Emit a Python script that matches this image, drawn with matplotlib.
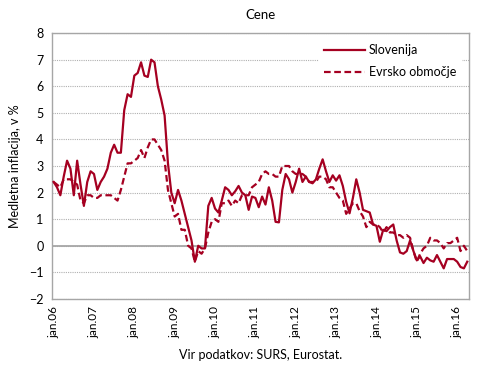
import matplotlib
matplotlib.use("Agg")
import matplotlib.pyplot as plt
import numpy as np

# monthly data, jan.2006 - apr.2016
slovenija = [
    2.4, 2.2, 1.9, 2.6, 3.2, 2.9, 1.9, 3.2, 2.3, 1.5, 2.4, 2.8,
    2.7, 2.1, 2.4, 2.6, 2.9, 3.5, 3.8, 3.5, 3.5, 5.1, 5.7, 5.6,
    6.4, 6.5, 6.9, 6.4, 6.35, 7.0, 6.9, 6.0, 5.5, 4.9, 3.1, 2.0,
    1.6, 2.1, 1.7, 1.2, 0.7, 0.2, -0.6, 0.0, -0.1, -0.1, 1.5, 1.8,
    1.4, 1.25, 1.7, 2.2, 2.1, 1.9, 2.05, 2.25, 2.0, 1.9, 1.35, 1.85,
    1.8, 1.45, 1.85, 1.55, 2.2, 1.7, 0.9, 0.88, 2.1, 2.7, 2.5, 2.0,
    2.4, 2.9, 2.4, 2.6, 2.4, 2.35, 2.5, 2.9, 3.25, 2.8, 2.4, 2.65,
    2.45, 2.65, 2.25, 1.65, 1.22, 1.8, 2.5, 2.0, 1.35, 1.3, 1.25, 0.8,
    0.75, 0.15, 0.6, 0.55, 0.7, 0.8, 0.2, -0.25, -0.3, -0.2, 0.2, -0.2,
    -0.55, -0.4, -0.65, -0.45, -0.55, -0.6, -0.35, -0.6, -0.85, -0.5, -0.5, -0.5,
    -0.6, -0.8, -0.85, -0.6,
]
evro = [
    2.4, 2.3, 2.2, 2.5, 2.5, 2.5, 2.4, 2.3, 1.7, 1.6, 1.9, 1.9,
    1.8, 1.8, 1.9, 1.9, 1.9, 1.9, 1.8, 1.7, 2.1, 2.6, 3.1, 3.1,
    3.2, 3.3, 3.6, 3.3, 3.7, 4.0, 4.0, 3.8, 3.6, 3.2, 2.1, 1.6,
    1.1, 1.2, 0.6, 0.6, 0.0, -0.1, -0.6, -0.2, -0.3, -0.1, 0.5, 0.9,
    1.0, 0.9, 1.6, 1.6, 1.7, 1.5, 1.7, 1.6, 1.9, 1.9, 1.9, 2.2,
    2.3, 2.4, 2.7, 2.8, 2.7, 2.7, 2.6, 2.6, 3.0, 3.0, 3.0, 2.8,
    2.7, 2.7, 2.7, 2.6, 2.4, 2.4, 2.4, 2.6, 2.6, 2.5, 2.2, 2.2,
    2.0, 1.8, 1.7, 1.2, 1.4, 1.6, 1.6, 1.3, 1.1, 0.7, 0.9, 0.8,
    0.8, 0.7, 0.5, 0.7, 0.5, 0.5, 0.4, 0.4, 0.3, 0.4, 0.3, -0.2,
    -0.6, -0.3, -0.1, 0.0, 0.3, 0.2, 0.2, 0.1, -0.1, 0.1, 0.1, 0.2,
    0.3, -0.2, 0.0, -0.2,
]
tick_labels = ["jan.06", "jan.07", "jan.08", "jan.09", "jan.10", "jan.11",
               "jan.12", "jan.13", "jan.14", "jan.15", "jan.16"]

plt.rcParams["font.family"] = ["Lato", "DejaVu Sans"]
RED = "#A50021"

fig = plt.figure(figsize=(4.9, 3.76), dpi=100)
ax = fig.add_axes([0.106, 0.205, 0.851, 0.707])

x = np.arange(len(slovenija))
ax.plot(x, slovenija, color=RED, lw=1.6, label="Slovenija", zorder=4)
ax.plot(x, evro, color=RED, lw=1.6, ls=(0, (3, 1.6)), label="Evrsko območje", zorder=3)

ax.set_xlim(-0.5, len(x) - 0.5)
ax.set_ylim(-2, 8)
ax.set_yticks(range(-2, 9))
ax.set_xticks(np.arange(len(tick_labels)) * 12)
ax.set_xticklabels(tick_labels, rotation=90, fontsize=8.5)
ax.tick_params(axis="y", labelsize=9, length=0, pad=6)
ax.tick_params(axis="x", length=0, pad=5)

ax.grid(axis="y", color="#B0B0B0", lw=0.8, ls=(0, (1, 1)))
ax.axhline(0, color="#A6A6A6", lw=1.3, zorder=2)
for s in ax.spines.values():
    s.set_color("#A6A6A6")
    s.set_linewidth(1.0)

ax.set_title("Cene", fontsize=9.5, pad=10)
ax.set_ylabel("Medletna inflacija, v %", fontsize=9, labelpad=6)
ax.set_xlabel("Vir podatkov: SURS, Eurostat.", fontsize=9, labelpad=8)

leg = ax.legend(loc="upper right", fontsize=9, frameon=True, fancybox=False,
                edgecolor="white", facecolor="white", framealpha=1,
                handlelength=3.3, handletextpad=0.3, labelspacing=0.8,
                borderaxespad=0.3, bbox_to_anchor=(0.99, 0.99))
leg.set_zorder(5)

fig.savefig("out.png", dpi=100)
